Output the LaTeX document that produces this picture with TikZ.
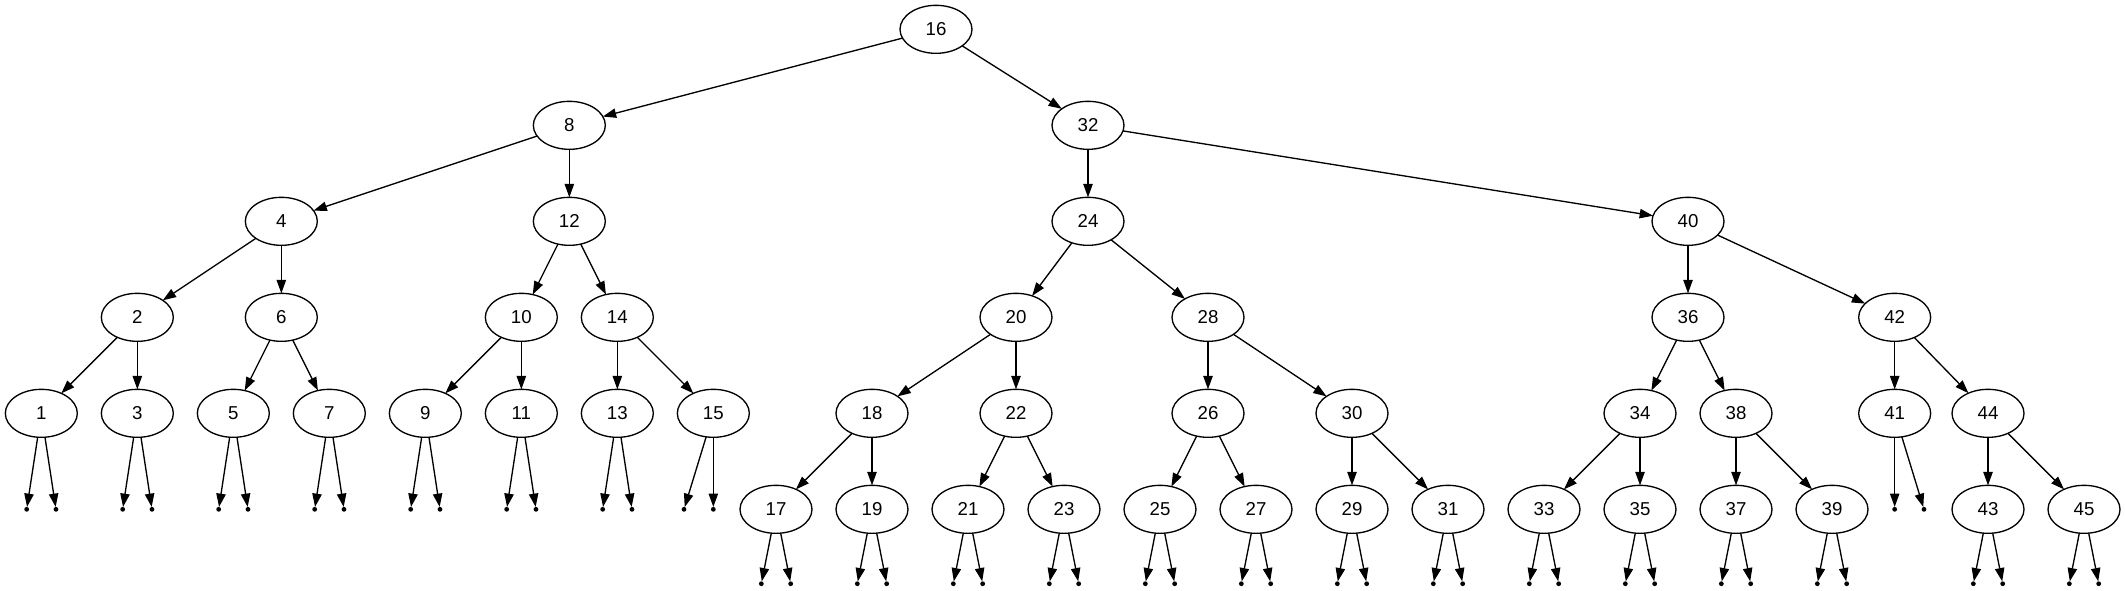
\documentclass[tikz,border=0pt]{standalone}
\usepackage{fontspec}
\setmainfont{Liberation Sans}
\usetikzlibrary{shapes.geometric,arrows.meta}
\tikzset{
  tn/.style={ellipse, draw, line width=1pt, minimum width=54pt, minimum height=36pt, inner sep=0pt, outer sep=0pt, font=\fontsize{14pt}{16pt}\selectfont},
  dotnode/.style={circle, fill=black, draw=none, inner sep=0pt, outer sep=0pt, minimum size=3.6pt},
  treeedge/.style={line width=1pt, -{Triangle[length=10pt,width=7pt]}}
}
\begin{document}
\begin{tikzpicture}[x=1pt,y=1pt]
\useasboundingbox (0,0) rectangle (1593.75,-443.25);
% tree nodes
\foreach \n/\x/\y in {16/702/22,
  8/427/94, 32/816/94,
  4/211/166, 12/427/166, 24/816/166, 40/1266/166,
  2/103/238, 6/211/238, 10/391/238, 14/463/238, 20/762/238, 28/906/238, 36/1266/238, 42/1421/238,
  1/31/310, 3/103/310, 5/175/310, 7/247/310, 9/319/310, 11/391/310, 13/463/310, 15/535/310,
  18/654/310, 22/762/310, 26/906/310, 30/1014/310, 34/1230/310, 38/1302/310, 41/1421/310, 44/1491/310,
  17/582/382, 19/654/382, 21/726/382, 23/798/382, 25/870/382, 27/942/382, 29/1014/382, 31/1086/382,
  33/1158/382, 35/1230/382, 37/1302/382, 39/1374/382, 43/1491/382, 45/1563/382}
  \node[tn] (n\n) at (\x,-\y) {\n};
% leaf points
\foreach \n/\xa/\xb/\y in {1/20/42/382, 3/92/114/382, 5/164/186/382, 7/236/258/382,
  9/308/330/382, 11/380/402/382, 13/452/474/382, 15/513/535/382, 41/1421/1443/382,
  17/571/593/437.8, 19/643/665/437.8, 21/715/737/437.8, 23/787/809/437.8,
  25/859/881/437.8, 27/931/953/437.8, 29/1003/1025/437.8, 31/1075/1097/437.8,
  33/1147/1169/437.8, 35/1219/1241/437.8, 37/1291/1313/437.8, 39/1363/1385/437.8,
  43/1480/1502/437.8, 45/1552/1574/437.8}
{
  \node[dotnode] (d\n a) at (\xa,-\y) {};
  \node[dotnode] (d\n b) at (\xb,-\y) {};
  \draw[treeedge] (n\n) -- (d\n a);
  \draw[treeedge] (n\n) -- (d\n b);
}
% tree edges
\foreach \a/\b in {16/8, 16/32, 8/4, 8/12, 32/24, 32/40, 4/2, 4/6, 12/10, 12/14,
  24/20, 24/28, 40/36, 40/42, 2/1, 2/3, 6/5, 6/7, 10/9, 10/11, 14/13, 14/15,
  20/18, 20/22, 28/26, 28/30, 36/34, 36/38, 42/41, 42/44, 18/17, 18/19,
  22/21, 22/23, 26/25, 26/27, 30/29, 30/31, 34/33, 34/35, 38/37, 38/39, 44/43, 44/45}
  \draw[treeedge] (n\a) -- (n\b);
\end{tikzpicture}
\end{document}
